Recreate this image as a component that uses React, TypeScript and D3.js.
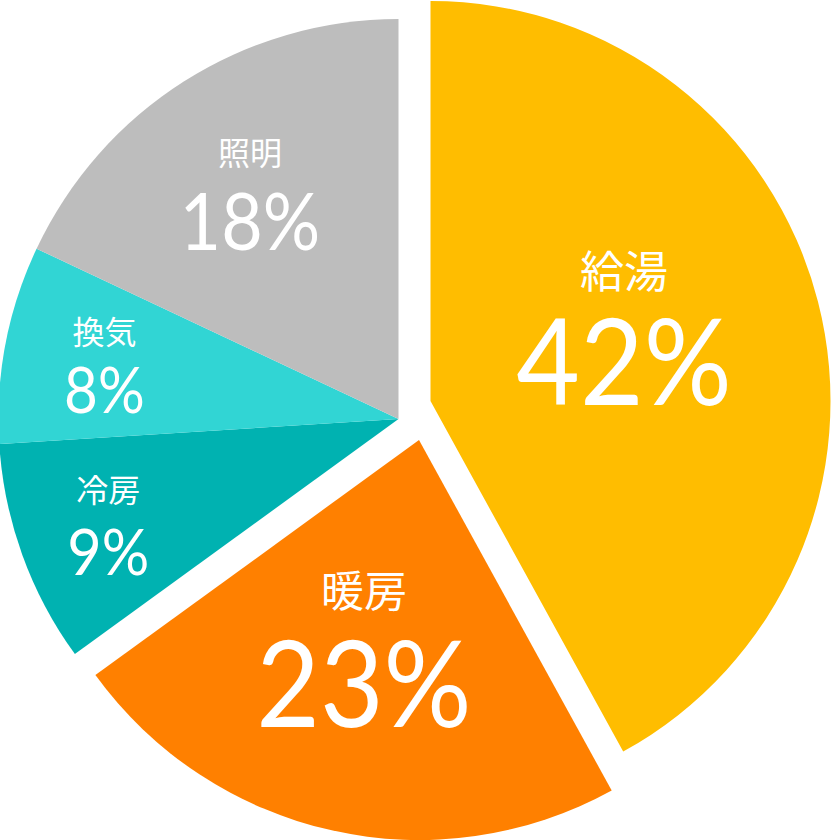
import * as d3 from "d3";

// energy use breakdown (%)
const categories = ["給湯", "暖房", "冷房", "換気", "照明"];
const shares = [42, 23, 9, 8, 18];
const colors = ["#FFBD00", "#FF8000", "#00B2B1", "#31D5D4", "#BDBDBD"];

// layout per slice
const explode = [[15.5, -19], [4, 20], [-16.5, -1], [-16.5, -1], [-16.5, -1]];
const labelRadius = [207, 217, 309, 299, 270];
const labelTurn = [-6.4, 2.1, -0.3, -0.4, -1.0];
const nameSize = [44, 43, 32, 32, 32];
const nameDy = [-40, -42.5, -23, -21, -29];
const valueSize = [121, 121, 64, 63, 79];
const valueDy = [77.5, 77.5, 50, 48, 56];

const W = 833;
const H = 840;
const cx = 415;
const cy = 420;
const R = 400;

// narrow geometric look for the numbers
const valueWidth = (v: number, size: number) => (String(v).length * 0.5 + 0.78) * size;

export default function App() {
  const pie = d3.pie<number>().sort(null).value((d) => d);
  const arcs = pie(shares);
  const arc = d3.arc<d3.PieArcDatum<number>>().innerRadius(0).outerRadius(R);

  return (
    <svg width={W} height={H} style={{ position: "absolute", left: 0, top: 0 }}>
      {arcs.map((a, i) => {
        const [dx, dy] = explode[i];
        const mid = (a.startAngle + a.endAngle) / 2 + (labelTurn[i] * Math.PI) / 180;
        const lx = labelRadius[i] * Math.sin(mid);
        const ly = -labelRadius[i] * Math.cos(mid);
        return (
          <g key={categories[i]} transform={`translate(${cx + dx},${cy + dy})`}>
            <path d={arc(a) ?? ""} fill={colors[i]} />
            <text
              x={lx}
              y={ly + nameDy[i]}
              textAnchor="middle"
              fill="#fff"
              fontFamily="'Noto Sans CJK JP'"
              fontSize={nameSize[i]}
            >
              {categories[i]}
            </text>
            <text
              x={lx}
              y={ly + valueDy[i]}
              textAnchor="middle"
              fill="#fff"
              fontFamily="Lato"
              fontSize={valueSize[i]}
              textLength={valueWidth(shares[i], valueSize[i])}
              lengthAdjust="spacingAndGlyphs"
            >
              {shares[i]}%
            </text>
          </g>
        );
      })}
    </svg>
  );
}
